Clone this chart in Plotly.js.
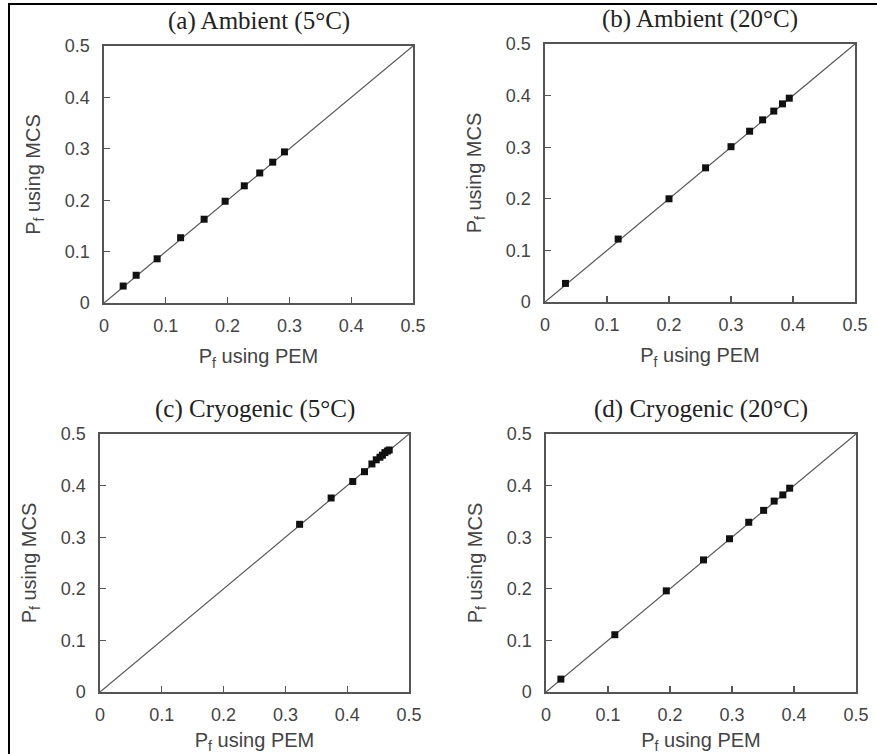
<!DOCTYPE html>
<html>
<head>
<meta charset="utf-8">
<script src="https://cdn.plot.ly/plotly-3.0.1.min.js"></script>
<style>
  html, body { margin: 0; padding: 0; background: #fff; }
  #wrap { position: relative; width: 877px; height: 754px; overflow: hidden; }
  #chart { width: 877px; height: 754px; }
  #frame { position: absolute; left: 8px; top: 3px; width: 900px; height: 800px;
           border-left: 2px solid #000; border-top: 2px solid #000; pointer-events: none; }
</style>
</head>
<body>
<div id="wrap">
  <div id="chart"></div>
  <div id="frame"></div>
</div>
<script>
// Panel titles
const panelTitles = ["(a) Ambient (5°C)", "(b) Ambient (20°C)", "(c) Cryogenic (5°C)", "(d) Cryogenic (20°C)"];
// Axis tick values / labels
const tickVals = [0, 0.1, 0.2, 0.3, 0.4, 0.5];
const tickText = ["0", "0.1", "0.2", "0.3", "0.4", "0.5"];
// 1:1 reference line
const diagX = [0, 0.5];
const diagY = [0, 0.5];
// (a) Ambient 5°C : Pf using PEM (x) vs Pf using MCS (y)
const aX = [0.031, 0.052, 0.086, 0.124, 0.162, 0.196, 0.227, 0.252, 0.273, 0.292];
const aY = [0.033, 0.054, 0.086, 0.127, 0.163, 0.198, 0.228, 0.253, 0.274, 0.294];
// (b) Ambient 20°C
const bX = [0.033, 0.118, 0.200, 0.259, 0.300, 0.330, 0.351, 0.369, 0.383, 0.394];
const bY = [0.036, 0.122, 0.200, 0.260, 0.301, 0.331, 0.353, 0.370, 0.384, 0.395];
// (c) Cryogenic 5°C
const cX = [0.323, 0.374, 0.409, 0.428, 0.440, 0.447, 0.453, 0.457, 0.461, 0.465, 0.468];
const cY = [0.325, 0.376, 0.408, 0.427, 0.442, 0.450, 0.455, 0.459, 0.464, 0.467, 0.469];
// (d) Cryogenic 20°C
const dX = [0.024, 0.111, 0.194, 0.254, 0.296, 0.327, 0.351, 0.368, 0.382, 0.393];
const dY = [0.025, 0.111, 0.196, 0.256, 0.297, 0.329, 0.352, 0.370, 0.382, 0.395];

const W = 877, H = 754;
// pixel boxes [left, right, top, bottom]
const boxes = [[104, 413, 46, 303], [545, 855, 44, 302], [100, 409, 434, 692], [546, 856, 434, 692]];
const series = [[aX, aY], [bX, bY], [cX, cY], [dX, dY]];

const traces = [];
const layout = {
  width: W, height: H,
  margin: {l: 0, r: 0, t: 0, b: 0},
  paper_bgcolor: "#fff", plot_bgcolor: "#fff",
  showlegend: false,
  annotations: []
};

const tickFont = {family: "Liberation Sans, Arial, sans-serif", size: 18, color: "#444"};
const axTitleFont = {family: "Liberation Sans, Arial, sans-serif", size: 20, color: "#444"};

boxes.forEach((b, i) => {
  const n = i + 1;
  const xa = n === 1 ? "x" : "x" + n;
  const ya = n === 1 ? "y" : "y" + n;
  const xk = n === 1 ? "xaxis" : "xaxis" + n;
  const yk = n === 1 ? "yaxis" : "yaxis" + n;
  const common = {
    range: [0, 0.5], tickvals: tickVals, ticktext: tickText,
    ticks: "inside", ticklen: 6, tickwidth: 1.3, tickcolor: "#555",
    showline: true, linecolor: "#555", linewidth: 1.6, mirror: true,
    showgrid: false, zeroline: false, tickfont: tickFont,
    automargin: false, fixedrange: true
  };
  layout[xk] = Object.assign({}, common, {
    domain: [b[0] / W, b[1] / W], anchor: ya, ticklabelstandoff: 6,
    title: {text: "P<sub>f</sub> using PEM", font: axTitleFont, standoff: 14}
  });
  layout[yk] = Object.assign({}, common, {
    domain: [1 - b[3] / H, 1 - b[2] / H], anchor: xa, ticklabelstandoff: 9,
    title: {text: "P<sub>f</sub> using MCS", font: axTitleFont, standoff: 19}
  });
  traces.push({
    x: diagX, y: diagY, xaxis: xa, yaxis: ya, mode: "lines",
    line: {color: "#555", width: 1.2}, hoverinfo: "skip"
  });
  traces.push({
    x: series[i][0], y: series[i][1], xaxis: xa, yaxis: ya, mode: "markers",
    marker: {symbol: "square", size: 7, color: "#111"}
  });
  layout.annotations.push({
    text: panelTitles[i], xref: "paper", yref: "paper",
    x: (b[0] + b[1]) / 2 / W, y: 1 - (b[2] - 25) / H,
    xanchor: "center", yanchor: "middle", showarrow: false,
    font: {family: "Liberation Serif, Times New Roman, serif", size: 25, color: "#222"}
  });
});

Plotly.newPlot("chart", traces, layout, {displayModeBar: false, staticPlot: true});
</script>
</body>
</html>
